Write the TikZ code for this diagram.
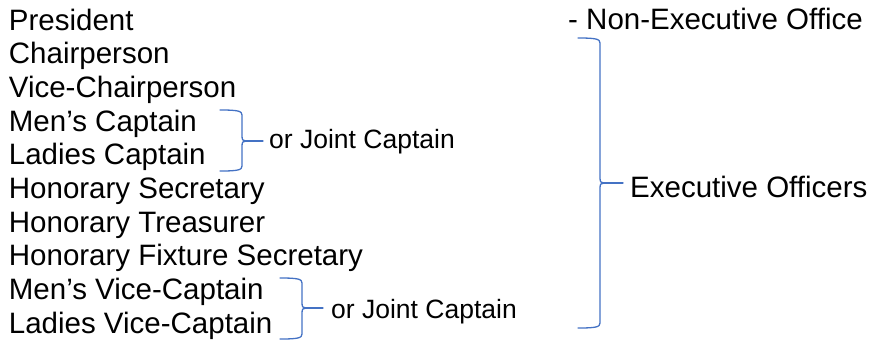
\documentclass[tikz,border=0pt]{standalone}
\usepackage{fontspec}
\setmainfont{Liberation Sans}
\definecolor{braceblue}{HTML}{4472C4}
\newcommand{\drawbrace}[6]{%
  \draw[bracestyle] (#1,#2) .. controls ({#3-4},#2) and (#3,{#2+1}) .. (#3,{#2+5}) -- (#3,{#5-5})
    .. controls (#3,{#5-1}) and ({#3+1},#5) .. ({#3+4},#5)
    .. controls ({#3+1},#5) and (#3,{#5+1}) .. (#3,{#5+5}) -- (#3,{#4-5})
    .. controls (#3,{#4-1}) and ({#3-4},#4) .. (#1,#4);
  \draw[bracestyle] ({#3+4},#5) -- (#6,#5);}
\begin{document}
\begin{tikzpicture}[x=1pt,y=-1pt,
  lbl/.style={anchor=base west,inner sep=0pt,font=\fontsize{29.5}{34}\selectfont,text=black},
  sml/.style={anchor=base west,inner sep=0pt,font=\fontsize{26.5}{31}\selectfont,text=black},
  bracestyle/.style={draw=braceblue,line width=1.3pt,line cap=round,line join=round}]
\useasboundingbox (0,0) rectangle (869,341);
\node[lbl] (p1) at (8.7,30) {President};
\node[lbl] (p2) at (8.7,63.7) {Chairperson};
\node[lbl] (p3) at (8.7,97.3) {Vice-Chairperson};
\node[lbl] (p4) at (8.7,131) {Men’s Captain};
\node[lbl] (p5) at (8.7,164.7) {Ladies Captain};
\node[lbl] (p6) at (8.7,198.3) {Honorary Secretary};
\node[lbl] (p7) at (8.7,232) {Honorary Treasurer};
\node[lbl] (p8) at (8.7,265.7) {Honorary Fixture Secretary};
\node[lbl] (p9) at (8.7,299.3) {Men’s Vice-Captain};
\node[lbl] (p10) at (8.7,333) {Ladies Vice-Captain};
\node[lbl] (ne) at (568,29.5) {- Non-Executive Office};
\node[lbl] (ex) at (630,197) {Executive Officers};
\node[sml] (jc1) at (269,148) {or Joint Captain};
\node[sml] (jc2) at (331,318) {or Joint Captain};
\drawbrace{578}{38}{600}{328}{183}{623}
\drawbrace{220}{110}{242}{171}{141}{263}
\drawbrace{280}{278}{302}{339}{308}{323}
\end{tikzpicture}
\end{document}
